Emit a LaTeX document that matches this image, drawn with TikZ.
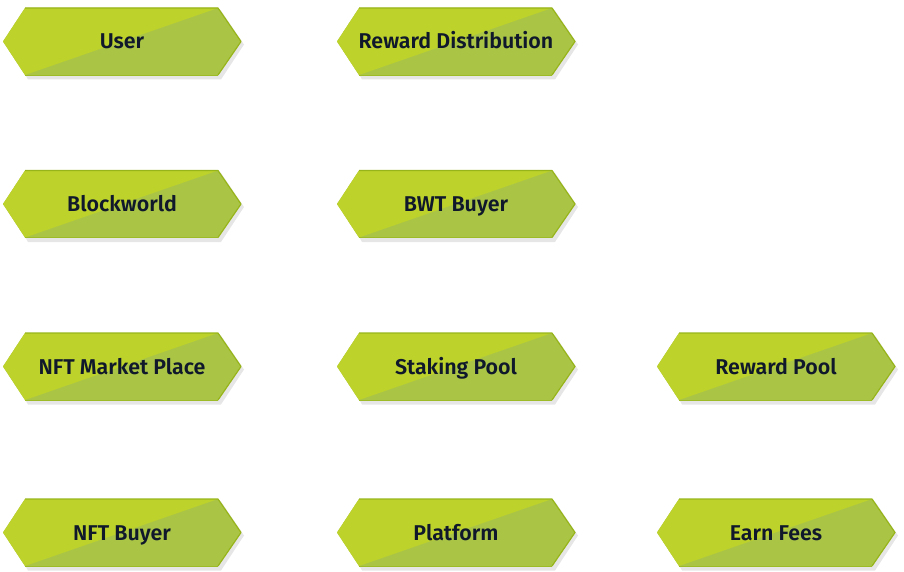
\documentclass[tikz,border=0pt]{standalone}
\usepackage{fontspec}
\setmainfont{Fira Sans}[BoldFont={Fira Sans SemiBold}]
\definecolor{hexlight}{HTML}{BDD22B}
\definecolor{hexdark}{HTML}{AAC546}
\definecolor{hexedge}{HTML}{97B51A}
\definecolor{hextext}{HTML}{10192B}
\tikzset{
  hexlabel/.style={font=\fontsize{21.4}{24}\selectfont\bfseries, text=hextext, inner sep=0pt, anchor=base}
}
% \hexbox{name}{cx}{cy}{text}
\newcommand{\hexbox}[4]{%
  \begin{scope}[shift={(#2,#3)}]
    \fill[black!22, opacity=0.45] (-114,3) -- (-94,-31) -- (99,-31) -- (122,3) -- (99,38) -- (-94,38) -- cycle;
    \fill[hexdark] (-119,0) -- (-97,-33.5) -- (96,-33.5) -- (119,0) -- (96,33.5) -- (-97,33.5) -- cycle;
    \fill[hexlight] (-119,0) -- (-97,-33.5) -- (96,-33.5) -- (-97,33.5) -- cycle;
    \draw[hexedge, line width=1.2pt, line join=round] (-97,-33.5) -- (96,-33.5) -- (119,0) -- (96,33.5);
    \draw[hexedge!70!hexdark, line width=0.8pt] (-97,33.5) -- (96,33.5);
    \node[hexlabel] (#1) at (0,7.5) {#4};
  \end{scope}}
\begin{document}
\begin{tikzpicture}[x=1pt,y=-1pt]
  \useasboundingbox (0,0) rectangle (904,572);
  \hexbox{user}{122}{41.5}{User}
  \hexbox{reward}{456}{41.5}{Reward Distribution}
  \hexbox{blockworld}{122}{204}{Blockworld}
  \hexbox{bwt}{456}{204}{BWT Buyer}
  \hexbox{nftmp}{122}{366.5}{NFT Market Place}
  \hexbox{staking}{456}{366.5}{Staking Pool}
  \hexbox{rewardpool}{776}{366.5}{Reward Pool}
  \hexbox{nftbuyer}{122}{532.5}{NFT Buyer}
  \hexbox{platform}{456}{532.5}{Platform}
  \hexbox{fees}{776}{532.5}{Earn Fees}
\end{tikzpicture}
\end{document}
